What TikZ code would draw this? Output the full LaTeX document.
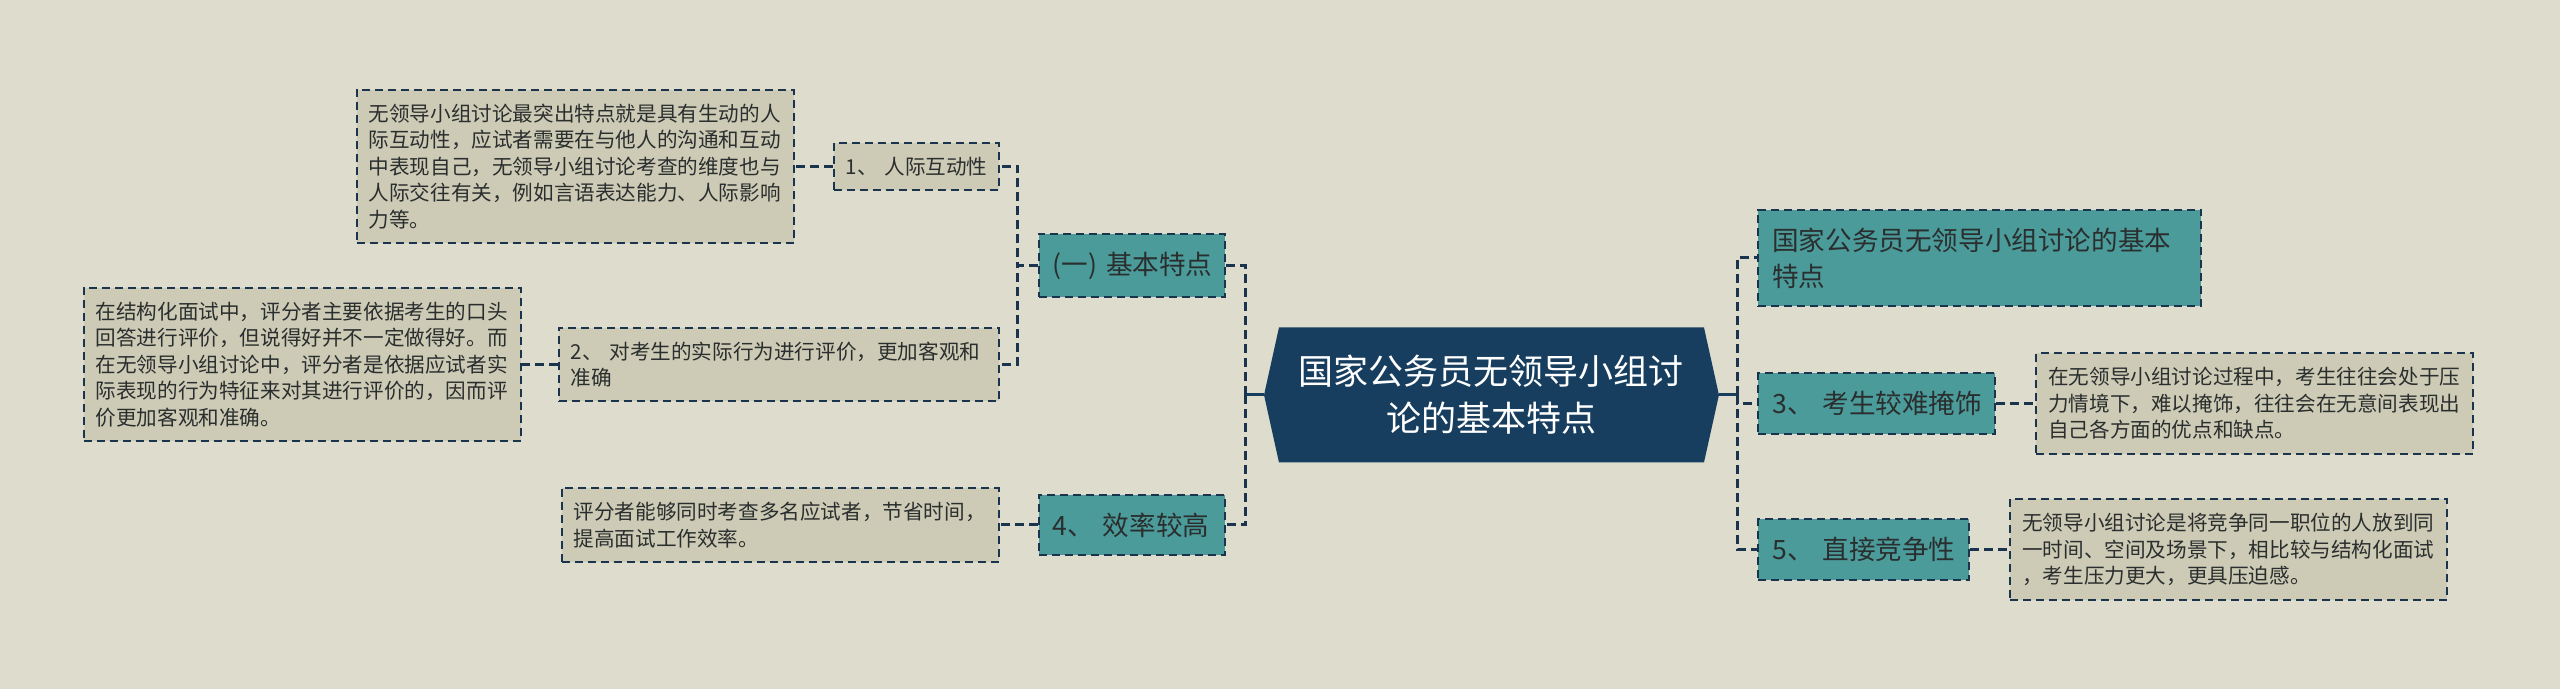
\documentclass[tikz,border=0pt]{standalone}
\usepackage{fontspec}
\setmainfont{Noto Sans CJK SC}
\usetikzlibrary{positioning, shapes.symbols}

\definecolor{fondo}{RGB}{222,220,205}
\definecolor{arena}{RGB}{205,203,181}
\definecolor{verdeazul}{RGB}{76,155,155}
\definecolor{marino}{RGB}{23,62,94}
\definecolor{trazo}{RGB}{26,52,77}
\definecolor{tinta}{RGB}{42,46,46}

\begin{document}
\begin{tikzpicture}[
        node distance=19pt,
        raiz/.style={signal, signal to=west and east, signal pointer angle=155, fill=marino, text=white, minimum height=67.5pt, inner xsep=10pt, text width=192.5pt, align=center, font=\fontsize{17.5pt}{23.5pt}\selectfont},
        tema/.style={draw=trazo, line width=1pt, dash pattern=on 4pt off 2.5pt, fill=verdeazul, text=tinta, inner xsep=7pt, inner ysep=9pt, align=left, font=\fontsize{13.3pt}{18pt}\selectfont},
        punto/.style={draw=trazo, line width=1pt, dash pattern=on 4pt off 2.5pt, fill=arena, text=tinta, inner xsep=6pt, inner ysep=7pt, align=left, font=\fontsize{10.3pt}{13.3pt}\selectfont},
        hoja/.style={punto, text width=206.5pt},
        rama/.style={draw=trazo, line width=1.5pt, dash pattern=on 4.5pt off 2.5pt},
        tronco/.style={draw=marino, line width=1.5pt}
    ]
    \path [use as bounding box, fill=fondo] (-745.75pt,-147pt) rectangle (534.25pt,197.5pt);

    \node (raiz) [raiz] at (0,0) {国家公务员无领导小组讨\\论的基本特点};

    \node (jiben) [tema, text width=79pt, left=of raiz, yshift=64.75pt] {(一)~基本特点};
    \node (xiaolv) [tema, text width=79pt, left=of raiz, yshift=-65pt] {4、~效率较高};
    \node (hudong) [punto, text width=70.5pt, left=of jiben, yshift=49.5pt] {1、~人际互动性};
    \node (xingwei) [punto, text width=208pt, left=of jiben, yshift=-49.5pt] {2、~对考生的实际行为进行评价，更加客观和\\准确};
    \node (hoja1) [hoja, left=of hudong] {无领导小组讨论最突出特点就是具有生动的人\\际互动性，应试者需要在与他人的沟通和互动\\中表现自己，无领导小组讨论考查的维度也与\\人际交往有关，例如言语表达能力、人际影响\\力等。};
    \node (hoja2) [hoja, left=18pt of xingwei] {在结构化面试中，评分者主要依据考生的口头\\回答进行评价，但说得好并不一定做得好。而\\在无领导小组讨论中，评分者是依据应试者实\\际表现的行为特征来对其进行评价的，因而评\\价更加客观和准确。};
    \node (hoja4) [hoja, left=of xiaolv] {评分者能够同时考查多名应试者，节省时间，\\提高面试工作效率。};

    \node (titulo) [tema, text width=207.5pt, right=of raiz, yshift=68.5pt] {国家公务员无领导小组讨论的基本\\特点};
    \node (yanshi) [tema, text width=104.5pt, right=of raiz, yshift=-4.25pt] {3、~考生较难掩饰};
    \node (jingzheng) [tema, text width=91.5pt, right=of raiz, yshift=-77.25pt] {5、~直接竞争性};
    \node (hoja3) [hoja, right=19.5pt of yanshi] {在无领导小组讨论过程中，考生往往会处于压\\力情境下，难以掩饰，往往会在无意间表现出\\自己各方面的优点和缺点。};
    \node (hoja5) [hoja, right=19.5pt of jingzheng] {无领导小组讨论是将竞争同一职位的人放到同\\一时间、空间及场景下，相比较与结构化面试\\，考生压力更大，更具压迫感。};

    \coordinate (izq) at ([xshift=-9pt]raiz.west);
    \coordinate (der) at ([xshift=9pt]raiz.east);
    \draw [tronco] (raiz.west) -- (izq);
    \draw [tronco] (raiz.east) -- (der);
    \draw [rama] (izq) |- (jiben);
    \draw [rama] (izq) |- (xiaolv);
    \draw [rama] (der) |- (titulo);
    \draw [rama] (der) |- (yanshi);
    \draw [rama] (der) |- (jingzheng);
    \draw [rama] (jiben.west) -- ++(-10pt,0) |- (hudong);
    \draw [rama] (jiben.west) -- ++(-10pt,0) |- (xingwei);
    \draw [rama] (hudong) -- (hoja1);
    \draw [rama] (xingwei) -- (hoja2);
    \draw [rama] (xiaolv) -- (hoja4);
    \draw [rama] (yanshi) -- (hoja3);
    \draw [rama] (jingzheng) -- (hoja5);
\end{tikzpicture}
\end{document}
